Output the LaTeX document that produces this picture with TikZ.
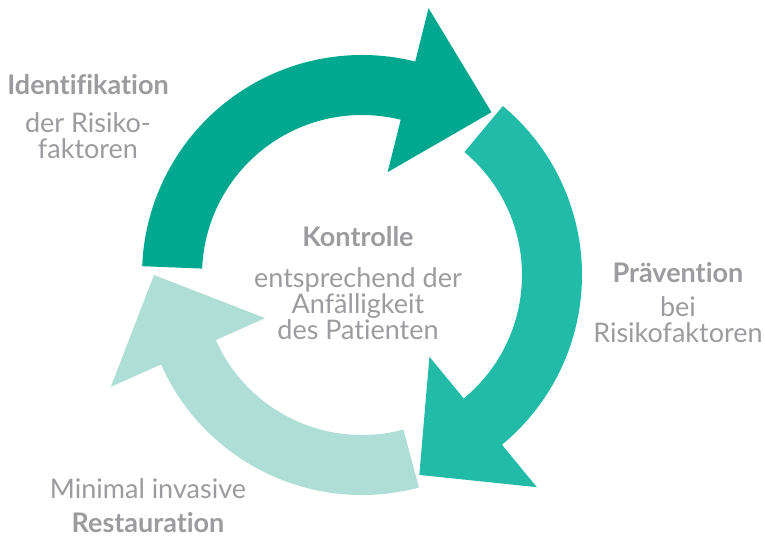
\documentclass[tikz,border=0pt]{standalone}
\usepackage{fontspec}
\setmainfont{Lato}[Ligatures={NoCommon}]
\usetikzlibrary{positioning}

\definecolor{dunkel}{HTML}{00A88F}
\definecolor{mittel}{HTML}{22BBA8}
\definecolor{hell}{HTML}{AFDED6}
\definecolor{grau}{HTML}{9B9BA0}

% #1 colour, #2 start angle, #3 angle of the head, #4 angle of the tip
\newcommand{\zyklus}[4]{%
  \fill[#1] (#2:160) arc[start angle=#2, end angle=#3, radius=160]
    -- (#3:106) -- (#4:208) -- (#3:275) -- (#3:220)
    arc[start angle=#3, end angle=#2, radius=220] -- cycle;}

\tikzset{
  titel/.style={text=grau, font=\fontsize{27}{26}\selectfont\bfseries, inner sep=0pt, anchor=base},
  beschr/.style={text=grau, font=\fontsize{27}{26}\selectfont, inner sep=0pt, align=center},
}

\begin{document}
\begin{tikzpicture}[x=1pt, y=1pt]
	\useasboundingbox (-362,-262) rectangle (403,275);

	\zyklus{dunkel}{177.7}{76}{51.5}
	\zyklus{mittel}{50.2}{-50.5}{-74}
	\zyklus{hell}{-75}{-156}{-180}

	\node[titel] (ident) at (-274,180) {Identifikation};
	\node[beschr, below=17.5pt of ident.base] (identtext) {der Risiko-\\faktoren};

	\node[titel] (kontr) at (-4,28) {Kontrolle};
	\node[beschr, below=20.5pt of kontr.base] (kontrtext) {entsprechend der\\Anfälligkeit\\des Patienten};

	\node[titel] (praev) at (316,-8) {Prävention};
	\node[beschr, below=13.5pt of praev.base] (praevtext) {bei\\Risikofaktoren};

	\node[beschr, anchor=base] (mininv) at (-214,-223) {Minimal invasive};
	\node[titel, below=14.5pt of mininv.base, anchor=north] (rest) {Restauration};
\end{tikzpicture}
\end{document}
